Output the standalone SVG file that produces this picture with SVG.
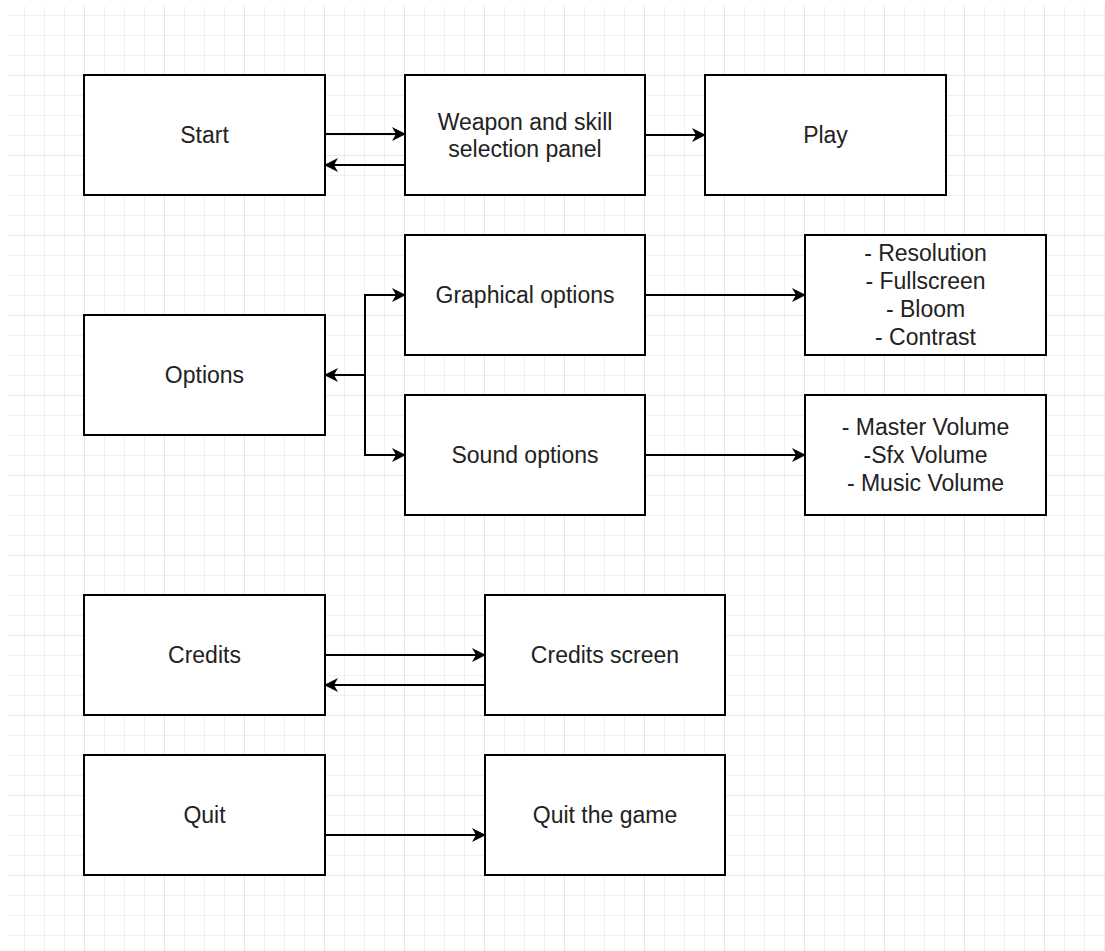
<svg xmlns="http://www.w3.org/2000/svg" width="1105" height="951" viewBox="0 0 1105 951">
<defs>
<pattern id="minor" x="4" y="15" width="20" height="20" patternUnits="userSpaceOnUse">
<path d="M0 0.5H20M0.5 0V20" fill="none" stroke="#f0f0f0" stroke-width="1"/>
</pattern>
<pattern id="major" x="4" y="75" width="80" height="80" patternUnits="userSpaceOnUse">
<path d="M0 0.5H80M0.5 0V80" fill="none" stroke="#e6e6e6" stroke-width="1"/>
</pattern>
<marker id="arr" viewBox="0 0 14 14" refX="13" refY="7" markerWidth="14" markerHeight="14" markerUnits="userSpaceOnUse" orient="auto">
<path d="M0 0L14 7L0 14L4 7Z" fill="#000"/>
</marker>
</defs>
<style>
.box{fill:#fff;stroke:#000;stroke-width:2}
.t{font-family:"Liberation Sans",Arial,sans-serif;font-size:23px;fill:#222;text-anchor:middle}
.c{fill:none;stroke:#000;stroke-width:2}
</style>
<rect width="1105" height="951" fill="#fff"/>
<rect x="8" y="6" width="1097" height="945" fill="url(#minor)"/>
<rect x="8" y="6" width="1097" height="945" fill="url(#major)"/>

<g id="connectors">
<path class="c" d="M325 134H405" marker-end="url(#arr)"/>
<path class="c" d="M405 165H325" marker-end="url(#arr)"/>
<path class="c" d="M645 135H705" marker-end="url(#arr)"/>
<path class="c" d="M365 375H325" marker-end="url(#arr)"/>
<path class="c" d="M365 375V295H405" marker-end="url(#arr)"/>
<path class="c" d="M365 375V455H405" marker-end="url(#arr)"/>
<path class="c" d="M645 295H805" marker-end="url(#arr)"/>
<path class="c" d="M645 455H805" marker-end="url(#arr)"/>
<path class="c" d="M325 655H485" marker-end="url(#arr)"/>
<path class="c" d="M485 685H325" marker-end="url(#arr)"/>
<path class="c" d="M325 835H485" marker-end="url(#arr)"/>
</g>

<g id="start"><rect class="box" x="84" y="75" width="241" height="120"/><text class="t" x="204.5" y="143">Start</text></g>
<g id="weapon"><rect class="box" x="405" y="75" width="240" height="120"/><text class="t" x="525" y="130">Weapon and skill</text><text class="t" x="525" y="157">selection panel</text></g>
<g id="play"><rect class="box" x="705" y="75" width="241" height="120"/><text class="t" x="825.5" y="143">Play</text></g>
<g id="graphical"><rect class="box" x="405" y="235" width="240" height="120"/><text class="t" x="525" y="303">Graphical options</text></g>
<g id="graphics-list"><rect class="box" x="805" y="235" width="241" height="120"/>
<text class="t" x="925.5" y="261">- Resolution</text><text class="t" x="925.5" y="289">- Fullscreen</text><text class="t" x="925.5" y="317">- Bloom</text><text class="t" x="925.5" y="345">- Contrast</text></g>
<g id="options"><rect class="box" x="84" y="315" width="241" height="120"/><text class="t" x="204.5" y="383">Options</text></g>
<g id="sound"><rect class="box" x="405" y="395" width="240" height="120"/><text class="t" x="525" y="463">Sound options</text></g>
<g id="sound-list"><rect class="box" x="805" y="395" width="241" height="120"/>
<text class="t" x="925.5" y="435">- Master Volume</text><text class="t" x="925.5" y="463">-Sfx Volume</text><text class="t" x="925.5" y="491">- Music Volume</text></g>
<g id="credits"><rect class="box" x="84" y="595" width="241" height="120"/><text class="t" x="204.5" y="663">Credits</text></g>
<g id="credits-screen"><rect class="box" x="485" y="595" width="240" height="120"/><text class="t" x="605" y="663">Credits screen</text></g>
<g id="quit"><rect class="box" x="84" y="755" width="241" height="120"/><text class="t" x="204.5" y="823">Quit</text></g>
<g id="quit-game"><rect class="box" x="485" y="755" width="240" height="120"/><text class="t" x="605" y="823">Quit the game</text></g>
</svg>
